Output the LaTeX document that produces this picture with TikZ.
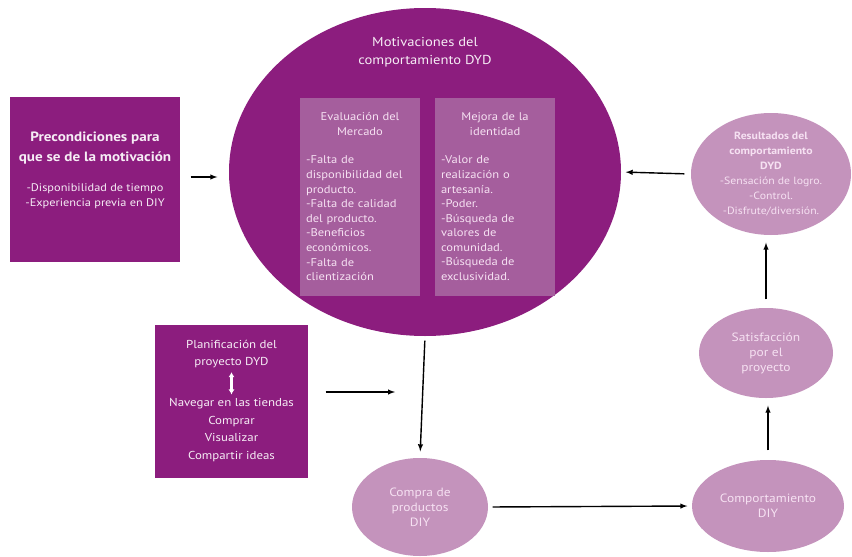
\documentclass[tikz,border=0pt]{standalone}
\usepackage{fontspec}
\setmainfont{PT Sans}[FakeStretch=1.12]
\usetikzlibrary{shapes.geometric,arrows.meta}

\definecolor{darkplum}{HTML}{8C1D7E}
\definecolor{midplum}{HTML}{A55E9D}
\definecolor{lightplum}{HTML}{C493BC}
\definecolor{paletext}{HTML}{F6E1F2}

\tikzset{
  darkbox/.style={fill=darkplum, inner sep=0pt},
  innerbox/.style={fill=midplum, text=paletext, text width=108pt, inner sep=6pt,
    align=left, anchor=north, minimum height=198pt, font=\fontsize{11.2}{14.6}\selectfont},
  lightoval/.style={ellipse, fill=lightplum, text=paletext, align=center, inner sep=0pt,
    font=\fontsize{12}{15}\selectfont},
  whitetext/.style={text=white!92!darkplum, align=center}
}

\begin{document}
\begin{tikzpicture}[x=1pt, y=-1pt, line width=1.4pt, >=latex]
\useasboundingbox (0,0) rectangle (852,557);

% left box
\node [darkbox, minimum width=170pt, minimum height=165pt] (precond) at (95,179.5) {};
\node [whitetext, font=\fontsize{13.5}{20}\selectfont\bfseries] (precondtitle) at (95,148) {Precondiciones para\\que se de la motivación};
\node [whitetext, font=\fontsize{11}{15.5}\selectfont] (precondtext) at (95,196) {-Disponibilidad de tiempo\\-Experiencia previa en DIY};

% big oval
\node [ellipse, fill=darkplum, minimum width=392pt, minimum height=328pt] (motiv) at (425,172) {};
\node [whitetext, font=\fontsize{13}{18}\selectfont] (motivtitle) at (425,52) {Motivaciones del\\comportamiento DYD};
\node [innerbox] (mercado) at (360,97) {{\centering Evaluación del\\Mercado\par}\vspace{14pt}
-Falta de\\disponibilidad del\\producto.\\-Falta de calidad\\del producto.\\-Beneficios\\económicos.\\-Falta de\\clientización};
\node [innerbox] (identidad) at (495,97) {{\centering Mejora de la\\identidad\par}\vspace{14pt}
-Valor de\\realización o\\artesanía.\\-Poder.\\-Búsqueda de\\valores de\\comunidad.\\-Búsqueda de\\exclusividad.};

% right side
\node [lightoval, minimum width=160pt, minimum height=122pt, font=\fontsize{10.5}{15}\selectfont] (result) at (771,174) {\textbf{Resultados del}\\\textbf{comportamiento}\\\textbf{DYD}\\-Sensación de logro.\\-Control.\\-Disfrute/diversión.};
\node [lightoval, minimum width=134pt, minimum height=90pt] (satis) at (766,353) {Satisfacción\\por el\\proyecto};
\node [lightoval, minimum width=152pt, minimum height=92pt] (comport) at (768,506) {Comportamiento\\DIY};
\node [lightoval, minimum width=136pt, minimum height=98pt] (compra) at (420,507) {Compra de\\productos\\DIY};

% planning box
\node [darkbox, minimum width=153pt, minimum height=153pt] (plan) at (231.5,401.5) {};
\node [whitetext, font=\fontsize{11.5}{17.5}\selectfont] (plantop) at (231.5,354) {Planificación del\\proyecto DYD};
\node [whitetext, font=\fontsize{11.5}{17.5}\selectfont] (planbot) at (231.5,430) {Navegar en las tiendas\\Comprar\\Visualizar\\Compartir ideas};
\coordinate (planend) at (395,392);

\draw [{Latex[length=5pt,width=6pt]}-{Latex[length=5pt,width=6pt]}, white, line width=2.2pt] (plantop) -- (planbot);

\draw [->, shorten <=10pt, shorten >=11pt] (precond.east |- 0,177) -- (motiv.west |- 0,177);
\draw [->, shorten <=6pt, shorten >=4pt] (result.west) -- (motiv.east);
\draw [->, shorten <=8pt, shorten >=7pt] (satis.north) -- (satis.north |- result.south);
\draw [->, shorten <=9pt, shorten >=7pt] (comport.north) -- (comport.north |- satis.south);
\draw [->, shorten <=4pt, shorten >=6pt] (motiv.south) -- (compra.north);
\draw [->, shorten <=4pt, shorten >=4pt] (compra.east) -- (comport.west);
\draw [->, shorten <=17pt] (plan.east |- planend) -- (planend);

\end{tikzpicture}
\end{document}
